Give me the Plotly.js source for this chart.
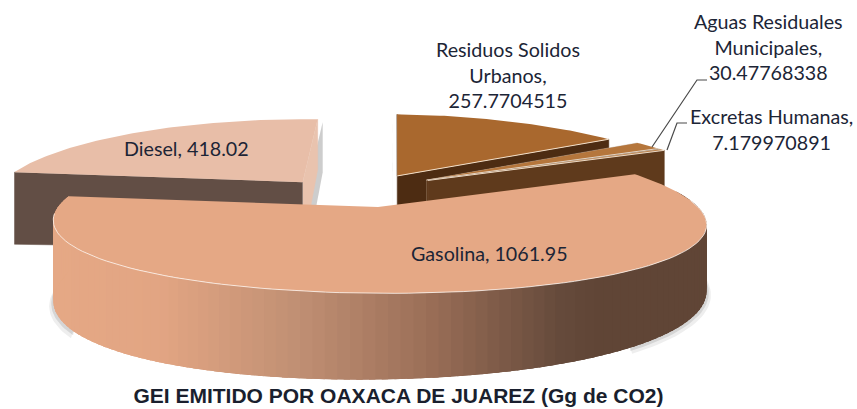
<!DOCTYPE html>
<html><head><meta charset="utf-8">
<script src="https://cdn.plot.ly/plotly-3.0.1.min.js"></script>
<style>html,body{margin:0;padding:0;background:#fff}#c{width:857px;height:409px}</style>
</head><body><div id="c"></div>
<script>
const categories = ["Gasolina","Diesel","Residuos Solidos Urbanos","Aguas Residuales Municipales","Excretas Humanas"];
const values = [1061.95,418.02,257.7704515,30.47768338,7.179970891];
const labelTexts = ["Gasolina, 1061.95","Diesel, 418.02","Residuos Solidos<br>Urbanos,<br>257.7704515","Aguas Residuales<br>Municipales,<br>30.47768338","Excretas Humanas,<br>7.179970891"];
const labelX = [489,186,508,768,771];
const labelY = [253,148,75,47,129];
const chartTitle = "GEI EMITIDO POR OAXACA DE JUAREZ (Gg de CO2)";
const topColors = ["#E5A885","#E8BEA8","#A9682E","#B5763C","#BC8048"];
const edgeColors = [null,"#624E45","#4D2C12","#5F3A1C","#5F3A1C"];
const sideColors = [null,"#E9C3AE","#4A2A10","#C9BBAE","#C9BBAE"];
const explodeU = [0,-0.24,0.08,0.175,0.18];
const explodeV = [0,-0.34,-0.43,-0.37,-0.365];
const startAngle = -27;

const cx=378, cy=207, R=320, Ry=76, skew=10;
const rad=d=>d*Math.PI/180;
function proj(u,v,h){
  const s=1/(1-0.2*v);
  const depth=70-8*u+16*v;
  return [cx+R*u*s+skew*v, cy+Ry*v/(1-0.12*v)+(h?depth*h:0)];
}
const total=values.reduce((a,b)=>a+b,0);
let acc=startAngle;
const slices=values.map((val,i)=>{const a0=acc;acc+=val/total*360;return {i,a0,a1:acc};});
function pt(sl,t,r,h){
  const a=rad(t);
  return proj(explodeU[sl.i]+r*Math.cos(a),explodeV[sl.i]+r*Math.sin(a),h);
}
const traces=[];
function poly(pts,color,lw,lc){
  traces.push({type:"scatter",mode:"lines",x:pts.map(p=>p[0]),y:pts.map(p=>p[1]),fill:"toself",fillcolor:color,
    line:{color:lc||color,width:lw||0},hoverinfo:"skip",showlegend:false});
}
function line(pts,color,w){
  traces.push({type:"scatter",mode:"lines",x:pts.map(p=>p[0]),y:pts.map(p=>p[1]),
    line:{color:color,width:w},hoverinfo:"skip",showlegend:false});
}
function arc(sl,a,b,r,h,n){const o=[];for(let k=0;k<=n;k++)o.push(pt(sl,a+(b-a)*k/n,r,h));return o;}
function face(sl){return [pt(sl,0,0,0)].concat(arc(sl,sl.a0,sl.a1,1,0,Math.max(8,Math.ceil(sl.a1-sl.a0))));}
function radialWall(sl,t,color){
  poly([pt(sl,0,0,0),pt(sl,t,1,0),pt(sl,t,1,1),pt(sl,0,0,1)],color,0.5);
}
const grad=[[55,[229,168,133]],[160,[226,165,131]],[300,[192,143,115]],[430,[154,110,87]],[560,[101,74,59]],[600,[96,69,54]],[720,[96,69,54]]];
function gradAt(x){
  for(let k=1;k<grad.length;k++){
    if(x<=grad[k][0]){const [x0,c0]=grad[k-1],[x1,c1]=grad[k],f=Math.max(0,(x-x0)/(x1-x0));
      return "rgb("+c0.map((c,j)=>Math.round(c+(c1[j]-c)*f)).join(",")+")";}
  }
  return "rgb(96,69,54)";
}
[2,3,4].forEach(i=>{
  const sl=slices[i];
  if(i===2){const p=[pt(sl,0,0,0),pt(sl,sl.a0,1,0),pt(sl,sl.a0,1,1),pt(sl,0,0,1)].map(q=>[q[0]-5,q[1]+2]);poly(p,"rgba(90,90,90,0.35)");}
  radialWall(sl,sl.a0,sideColors[i]);
  radialWall(sl,sl.a1,edgeColors[i]);
  poly(face(sl),topColors[i]);
  line([pt(sl,0,0,0),pt(sl,sl.a1,1,0)],i===2?"#F3DFC8":"#EBD9C6",1);
});
{
  const sl=slices[1];
  const sh=[pt(sl,0,0,0),pt(sl,sl.a1,1,0),pt(sl,sl.a1,1,1),pt(sl,0,0,1)].map(q=>[q[0]+5,q[1]+3]);
  poly(sh,"rgba(90,90,90,0.30)");
  radialWall(sl,sl.a1,sideColors[1]);
  radialWall(sl,sl.a0,edgeColors[1]);
  poly(face(sl),topColors[1]);
}
{
  const sl=slices[0];
  [[1.012,1.06,"rgba(90,90,90,0.10)"],[1.006,1.03,"rgba(90,90,90,0.16)"]].forEach(([r,h,c])=>{
    poly(arc(sl,150,sl.a1-4,r,h,30).concat(arc(sl,sl.a1-4,150,1,0.9,30)),c);
    poly(arc(sl,0,50,r,h,30).concat(arc(sl,50,0,1,0.9,30)),c);
  });
  const a=-12,b=sl.a1,n=110,st=(b-a)/n;
  for(let k=0;k<n;k++){
    const t0=a+st*k,t1=Math.min(b,t0+st*2.5);
    const q=[pt(sl,t0,1,0),pt(sl,t1,1,0),pt(sl,t1,1,1),pt(sl,t0,1,1)];
    poly(q,gradAt((pt(sl,t0,1,0)[0]+pt(sl,t0+st,1,0)[0])/2));
  }
  poly(face(sl),topColors[0]);
  line(arc(sl,-5,175,1,0,90),"rgba(255,250,245,0.75)",1);
}
const leaderA=[[652,147],[697,80],[707,80]], leaderB=[[667,150],[677,123],[687,123]];
line(leaderA,"#4a4a4a",1.2); line(leaderB,"#4a4a4a",1.2);

const annotations=labelTexts.map((t,i)=>({x:labelX[i],y:labelY[i],xref:"x",yref:"y",text:t,showarrow:false,
  xanchor:"center",yanchor:"middle",align:"center",font:{family:"Lato, 'Open Sans', sans-serif",size:19.7,color:"#1c2536"}}));

Plotly.newPlot("c",traces,{
  width:857,height:409,margin:{l:0,r:0,t:0,b:0},paper_bgcolor:"#fff",plot_bgcolor:"#fff",showlegend:false,
  xaxis:{range:[0,857],visible:false,fixedrange:true},
  yaxis:{range:[409,0],visible:false,fixedrange:true},
  title:{text:"<b>"+chartTitle+"</b>",x:0.465,xanchor:"center",y:1-396/409,yanchor:"middle",
    font:{family:"Liberation Sans, Arial, sans-serif",size:21,color:"#1a1f2e"}},
  annotations
},{displayModeBar:false,staticPlot:true});
</script></body></html>
